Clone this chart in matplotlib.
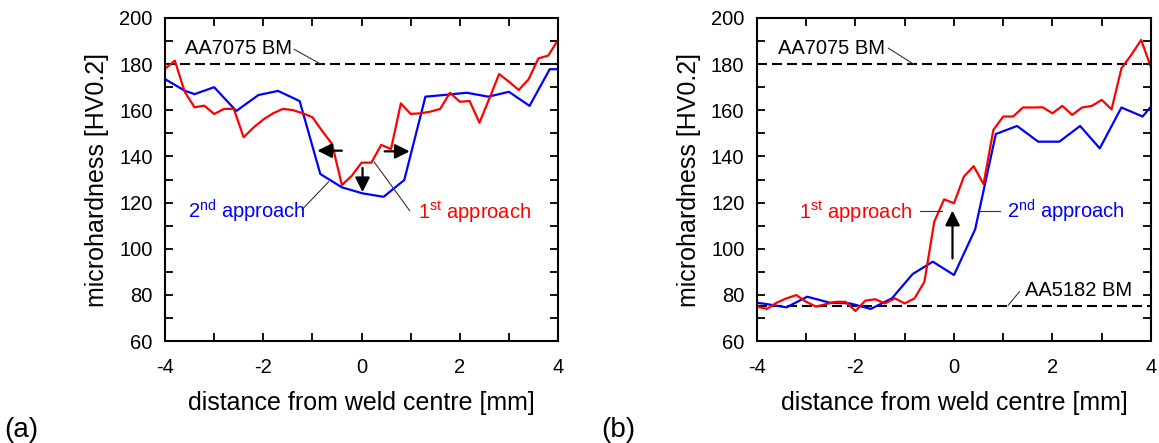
import numpy as np
import matplotlib
matplotlib.use('Agg')
from matplotlib import pyplot as plt
from matplotlib.ticker import MultipleLocator

plt.rcParams['font.family'] = ['Liberation Sans', 'DejaVu Sans']
plt.rcParams['axes.unicode_minus'] = False

# ---------------- datos (a)
xa_red = [-4.0, -3.8, -3.6, -3.4, -3.2, -3.0, -2.8, -2.6, -2.4, -2.2, -2.0, -1.8, -1.6, -1.4,
          -1.2, -1.0, -0.8, -0.6, -0.4, -0.2, 0.0, 0.2, 0.4, 0.6, 0.8, 1.0, 1.2, 1.4, 1.6,
          1.8, 2.0, 2.2, 2.4, 2.6, 2.8, 3.0, 3.2, 3.4, 3.6, 3.8, 4.0]
ya_red = [178, 181.5, 168, 161.3, 162, 158.4, 160.6, 160.6, 148.3, 152.5, 156, 158.7, 160.6, 160.1,
          158.7, 157, 151, 145.4, 127.6, 131.6, 137.3, 137.3, 145, 143.2, 163, 158.4, 158.7, 159.4,
          160.6, 167.6, 163.7, 164, 154.6, 165, 175.7, 172.4, 168.8, 173.4, 182.5, 183.7, 190.5]

xa_blue = [-4.0, -3.6, -3.4, -3.0, -2.55, -2.1, -1.7, -1.26, -0.84, -0.4, 0.02, 0.45, 0.87,
           1.3, 1.72, 2.14, 2.58, 3.0, 3.42, 3.83, 4.0]
ya_blue = [173.5, 168.5, 167, 170, 159.7, 166.6, 168.4, 164, 132.4, 126.6, 124, 122.5, 129.8,
           165.9, 166.7, 167.6, 165.9, 168, 161.9, 177.8, 177.8]

# ---------------- datos (b)
xb_red = xa_red
yb_red = [74.9, 73.9, 76.6, 78.5, 79.9, 77, 74.9, 76, 77, 77, 73, 77.5, 78.1, 76.3,
          78.5, 76.3, 78.5, 85.7, 111.7, 121.4, 119.7, 131.2, 135.8, 128, 151.5, 157.3, 157.3,
          161.2, 161.2, 161.3, 158.7, 161.9, 158, 161.2, 161.9, 164.5, 160.4, 178.2, 184, 190.5, 178.6]

xb_blue = [-4.0, -3.8, -3.4, -2.98, -2.52, -2.11, -1.69, -1.26, -0.84, -0.43, 0.0, 0.43, 0.85,
           1.28, 1.71, 2.14, 2.56, 2.96, 3.4, 3.83, 4.0]
yb_blue = [76.6, 76, 74.6, 79.2, 76.6, 76.3, 73.9, 78.5, 89, 94.4, 88.6, 108.4, 149.7,
           153.2, 146.4, 146.4, 153.2, 143.5, 161.2, 157.3, 161.6]

bm7075 = 180
bm5182 = 75

rojo = '#ff0000'
azul = '#0000ff'
FS_TICK = 14.5
FS_LAB = 18
FS_TXT = 14.5


def ejes(ax):
    ax.set_xlim(-4, 4)
    ax.set_ylim(60, 200)
    ax.xaxis.set_major_locator(MultipleLocator(2))
    ax.xaxis.set_minor_locator(MultipleLocator(1))
    ax.yaxis.set_major_locator(MultipleLocator(20))
    ax.yaxis.set_minor_locator(MultipleLocator(10))
    ax.tick_params(which='both', direction='in', top=True, right=True, length=5.5, width=1.3)
    ax.tick_params(axis='x', labelsize=FS_TICK, pad=12)
    ax.tick_params(axis='y', labelsize=FS_TICK, pad=9)
    for s in ax.spines.values():
        s.set_linewidth(1.5)
    ax.set_xlabel('distance from weld centre [mm]', fontsize=FS_LAB)
    ax.set_ylabel('microhardness [HV0.2]', fontsize=FS_LAB)
    ax.xaxis.set_label_coords(0.5, -0.155)
    ax.yaxis.set_label_coords(-0.143, 0.5)


def guia(ax, p0, p1):
    ax.plot([p0[0], p1[0]], [p0[1], p1[1]], color='#333333', lw=0.8)


def flecha(ax, cola, punta):
    ax.annotate('', xy=punta, xytext=cola,
                arrowprops=dict(arrowstyle='-|>', color='k', lw=1.6, mutation_scale=22,
                                shrinkA=0, shrinkB=0))


fig = plt.figure(figsize=(11.59, 4.43), dpi=100)
axA = fig.add_axes([0.1424, 0.2302, 0.3391, 0.7292])
axB = fig.add_axes([0.6531, 0.2302, 0.3400, 0.7292])

####################(a)
ejes(axA)
axA.axhline(bm7075, color='k', lw=1.5, ls=(0, (4.8, 2.4)))
axA.plot(xa_blue, ya_blue, color=azul, lw=1.6)
axA.plot(xa_red, ya_red, color=rojo, lw=1.6)
axA.text(-3.6, 186.6, 'AA7075 BM', fontsize=FS_TXT, va='center', ha='left')
guia(axA, (-1.37, 186.4), (-0.83, 180))
axA.text(-3.53, 116, '2$^{\\mathregular{nd}}$ approach', fontsize=FS_TXT, color=azul, va='center', ha='left')
guia(axA, (-1.21, 117), (-0.67, 129))
axA.text(1.15, 116, '1$^{\\mathregular{st}}$ approach', fontsize=FS_TXT, color=rojo, va='center', ha='left')
guia(axA, (0.26, 137.5), (0.98, 116.5))
flecha(axA, (-0.4, 142.5), (-0.9, 142.5))
flecha(axA, (0.47, 142.2), (0.98, 142.2))
flecha(axA, (0.02, 135), (0.02, 124.5))

####################(b)
ejes(axB)
axB.axhline(bm7075, color='k', lw=1.5, ls=(0, (4.8, 2.4)))
axB.axhline(bm5182, color='k', lw=1.5, ls=(0, (4.8, 2.4)))
axB.plot(xb_blue, yb_blue, color=azul, lw=1.6)
axB.plot(xb_red, yb_red, color=rojo, lw=1.6)
axB.text(-3.57, 186.6, 'AA7075 BM', fontsize=FS_TXT, va='center', ha='left')
guia(axB, (-1.33, 186.9), (-0.82, 180))
axB.text(1.44, 82, 'AA5182 BM', fontsize=FS_TXT, va='center', ha='left')
guia(axB, (1.1, 75.5), (1.33, 81.4))
axB.text(-3.15, 116, '1$^{\\mathregular{st}}$ approach', fontsize=FS_TXT, color=rojo, va='center', ha='left')
guia(axB, (-0.69, 116.5), (-0.25, 116.5))
axB.text(1.07, 116, '2$^{\\mathregular{nd}}$ approach', fontsize=FS_TXT, color=azul, va='center', ha='left')
guia(axB, (0.53, 116.5), (0.93, 116.5))
flecha(axB, (-0.03, 95.8), (-0.03, 116.5))

fig.text(0.004, 0.03, '(a)', fontsize=20, va='center', ha='left')
fig.text(0.519, 0.03, '(b)', fontsize=20, va='center', ha='left')

plt.savefig('out.png', dpi=100)
